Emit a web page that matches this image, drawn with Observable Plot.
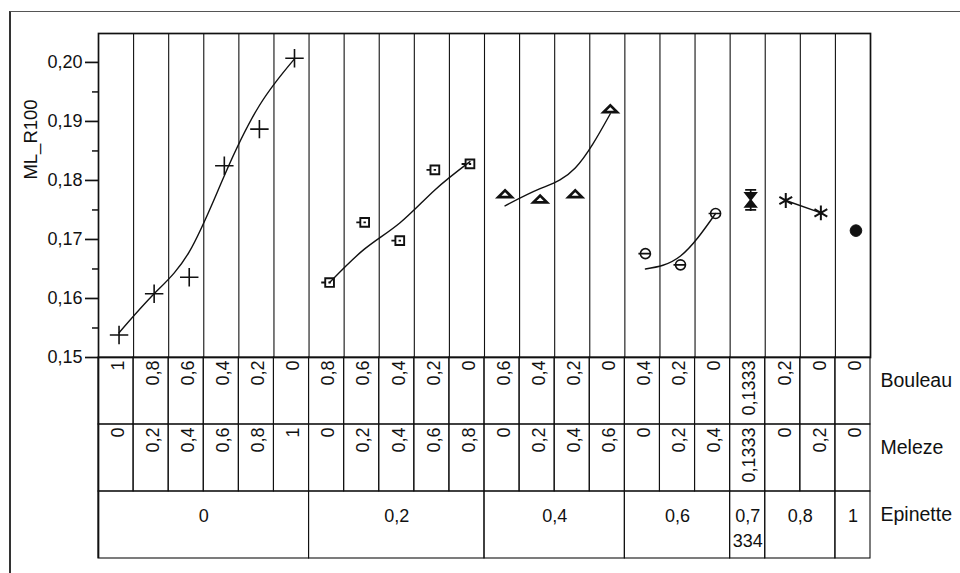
<!DOCTYPE html>
<html>
<head>
<meta charset="utf-8">
<script src="https://cdn.jsdelivr.net/npm/d3@7"></script>
<script src="https://cdn.jsdelivr.net/npm/@observablehq/plot@0.6"></script>
<style>
  html, body { margin: 0; padding: 0; background: #fff; }
  #wrap { position: relative; width: 960px; height: 573px; overflow: hidden; background: #fff; }
  #chart svg { display: block; overflow: visible; }
  #border { position: absolute; left: 9px; top: 11px; right: -5px; bottom: -5px;
            border-left: 2px solid #333; border-top: 1.5px solid #555; pointer-events: none; }
</style>
</head>
<body>
<div id="wrap">
  <div id="chart"></div>
  <div id="border"></div>
</div>
<script>
// ---- data ----
const bouleau  = [1, 0.8, 0.6, 0.4, 0.2, 0, 0.8, 0.6, 0.4, 0.2, 0, 0.6, 0.4, 0.2, 0, 0.4, 0.2, 0, 0.1333, 0.2, 0, 0];
const meleze   = [0, 0.2, 0.4, 0.6, 0.8, 1, 0, 0.2, 0.4, 0.6, 0.8, 0, 0.2, 0.4, 0.6, 0, 0.2, 0.4, 0.1333, 0, 0.2, 0];
const epinette = [0, 0, 0, 0, 0, 0, 0.2, 0.2, 0.2, 0.2, 0.2, 0.4, 0.4, 0.4, 0.4, 0.6, 0.6, 0.6, 0.7334, 0.8, 0.8, 1];
const mlR100   = [0.1538, 0.1608, 0.1636, 0.1825, 0.1887, 0.2007,
                  0.1627, 0.1729, 0.1698, 0.1818, 0.1828,
                  0.1777, 0.1768, 0.1777, 0.1921,
                  0.1676, 0.1657, 0.1744,
                  0.1767,
                  0.1766, 0.1745,
                  0.1715];
// smoothing-curve values
const fitted   = [0.1542, 0.1608, 0.1679, 0.1808, 0.1927, 0.2006,
                  0.1627, 0.1684, 0.1728, 0.1784, 0.1832,
                  0.1757, 0.1786, 0.1821, 0.1913,
                  0.1650, 0.1672, 0.1744,
                  null,
                  0.1766, 0.1745,
                  null];
const yTicks = [0.15, 0.16, 0.17, 0.18, 0.19, 0.20];
const yMinor = [0.155, 0.165, 0.175, 0.185, 0.195];
const rowNames = ["Bouleau", "Meleze", "Epinette"];
const yLabel = "ML_R100";

// ---- helpers ----
const fmt = v => String(v).replace(".", ",");
const n = mlR100.length;
const cols = d3.range(n).map(i => ({i, b: bouleau[i], m: meleze[i], e: epinette[i], y: mlR100[i], fit: fitted[i]}));

// custom symbols
const symSquare = {draw(c, size) {
  const r = Math.sqrt(size / Math.PI), s = r * 0.78;
  c.moveTo(-s, -s); c.lineTo(s, -s); c.lineTo(s, s); c.lineTo(-s, s); c.closePath();
  c.moveTo(-s - 4, 0); c.lineTo(-s, 0);
  c.moveTo(-1.2, 0); c.lineTo(1.2, 0);
}};
const symTri = {draw(c, size) {
  const r = Math.sqrt(size / Math.PI);
  c.moveTo(-r, r * 0.45); c.lineTo(r, r * 0.45); c.lineTo(0, -r * 0.55); c.closePath();
}};
const symTheta = {draw(c, size) {
  const r = Math.sqrt(size / Math.PI);
  c.moveTo(r, 0); c.arc(0, 0, r, 0, 2 * Math.PI);
  c.moveTo(-r - 2, 0); c.lineTo(r, 0);
}};
const symHour = {draw(c, size) {
  const r = Math.sqrt(size / Math.PI), w = r * 0.55, h = r;
  c.moveTo(-w, -h); c.lineTo(w, -h);
  c.moveTo(-w, -h * 0.7); c.lineTo(w, -h * 0.7); c.lineTo(-w, h * 0.7); c.lineTo(w, h * 0.7); c.closePath();
  c.moveTo(-w, h); c.lineTo(w, h);
  c.moveTo(0, -h - 1); c.lineTo(0, h + 1);
}};

const groupStyle = new Map([
  [0,      {symbol: "plus",     r: 6,   stroke: "#111", fill: "none", strokeWidth: 1.6}],
  [0.2,    {symbol: symSquare,  r: 5.6, stroke: "#111", fill: "none", strokeWidth: 1.9}],
  [0.4,    {symbol: symTri,     r: 6.8, stroke: "#111", fill: "none", strokeWidth: 2.7}],
  [0.6,    {symbol: symTheta,   r: 5,   stroke: "#111", fill: "none", strokeWidth: 1.6}],
  [0.7334, {symbol: symHour,    r: 10,  stroke: "#111", fill: "#111", strokeWidth: 1.7}],
  [0.8,    {symbol: "asterisk", r: 7,   stroke: "#111", fill: "none", strokeWidth: 2}],
  [1,      {symbol: "circle",   r: 5.8, stroke: "#111", fill: "#111", strokeWidth: 1}]
]);

const font = {fontFamily: "'Liberation Sans', Arial, Helvetica, sans-serif", fontSize: "18px", background: "transparent", color: "#111", overflow: "visible"};
const W = 960, ML = 98, MR = 90;
const ink = "#111";

const chartTop = Plot.plot({
  width: W, height: 357,
  marginLeft: ML, marginRight: MR, marginTop: 33, marginBottom: 0,
  style: font,
  x: {domain: [0, n], axis: null},
  y: {domain: [0.15, 0.2049], axis: null},
  marks: [
    Plot.ruleX(d3.range(1, n), {stroke: ink, strokeWidth: 1.1}),
    Plot.frame({stroke: ink, strokeWidth: 1.7}),
    Plot.axisY({ticks: yTicks, tickSize: 13, tickPadding: 3, tickFormat: d => d.toFixed(2).replace(".", ","),
                strokeWidth: 1.7, stroke: ink, fill: ink, label: null, fontSize: 18}),
    Plot.axisY({ticks: yMinor, tickSize: 6, tickFormat: () => "", strokeWidth: 1.5, stroke: ink, label: null}),
    Plot.text([yLabel], {frameAnchor: "top-left", rotate: -90, textAnchor: "middle", lineAnchor: "middle",
                         dx: -67, dy: 106, fontSize: 18.5, fill: ink}),
    Plot.line(cols.filter(d => d.fit != null), {x: d => d.i + 0.5, y: "fit", z: "e", curve: "natural",
                         stroke: ink, strokeWidth: 1.4, dx: 3}),
    ...Array.from(groupStyle, ([g, s]) =>
      Plot.dot(cols.filter(d => d.e === g), {x: d => d.i + 0.5, y: "y", dx: 3, ...s}))
  ]
});

// table below the chart
const cellsBM = [];
cols.forEach(d => {
  cellsBM.push({i: d.i, row: "Bouleau", label: fmt(d.b)});
  cellsBM.push({i: d.i, row: "Meleze", label: fmt(d.m)});
});
const epGroups = [];
epinette.forEach((v, i) => {
  const last = epGroups[epGroups.length - 1];
  if (last && last.v === v) last.end = i + 1;
  else epGroups.push({v, start: i, end: i + 1});
});
epGroups.forEach(g => {
  const s = fmt(g.v);
  g.label = (g.end - g.start === 1 && s.length > 3) ? (s.match(/.{1,3}/g).join("\n")) : s;
  g.row = "Epinette";
});

const chartTable = Plot.plot({
  width: W, height: 216,
  marginLeft: ML, marginRight: MR, marginTop: 0, marginBottom: 15,
  style: font,
  x: {domain: [0, n], axis: null},
  y: {domain: rowNames, axis: null, padding: 0},
  marks: [
    Plot.barX(cellsBM, {x1: "i", x2: d => d.i + 1, y: "row", fill: "none", stroke: ink, strokeWidth: 1.1}),
    Plot.barX(epGroups, {x1: "start", x2: "end", y: "row", fill: "none", stroke: ink, strokeWidth: 1.1}),
    Plot.ruleX([0], {stroke: ink, strokeWidth: 1.7}),
    Plot.text(cellsBM, {x: d => d.i + 0.5, y: "row", text: "label", rotate: -90, textAnchor: "end",
                        lineAnchor: "middle", dx: 2, dy: -30.5, fontSize: 18, fill: ink}),
    Plot.text(epGroups, {x: d => (d.start + d.end) / 2, y: "row", text: "label", lineAnchor: "top",
                         lineHeight: 1.39, dy: -21, fontSize: 18, fill: ink}),
    Plot.text(rowNames, {frameAnchor: "right", y: d => d, text: d => d, textAnchor: "start",
                         lineAnchor: "middle", dx: 10, dy: -10, fontSize: 19.5, fill: ink})
  ]
});

document.getElementById("chart").append(chartTop, chartTable);
</script>
</body>
</html>
